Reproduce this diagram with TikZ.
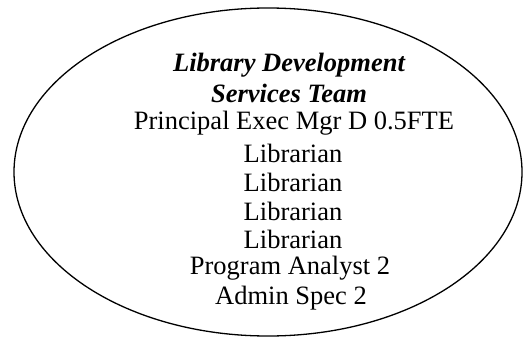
\documentclass[tikz,border=0pt]{standalone}
\usepackage{fontspec}
\setmainfont{Liberation Serif}
\usepackage{tikz}

\tikzset{
  staff/.style={font=\fontsize{26.5}{29}\selectfont},
  teamname/.style={font=\fontsize{26.5}{29}\selectfont\itshape\bfseries}
}

\begin{document}
\begin{tikzpicture}[x=1pt, y=-1pt, thick]
  \useasboundingbox (0,0) rectangle (529,339);
  \draw[line width=1.3pt] (268,172) ellipse [x radius=254, y radius=164];
  \node[teamname] (title) at (289,65) {Library Development};
  \node[teamname] (team) at (289,93) {Services Team};
  \node[staff] (mgr) at (294,123) {Principal Exec Mgr D 0.5FTE};
  \node[staff] (lib1) at (293,153) {Librarian};
  \node[staff] (lib2) at (293,182) {Librarian};
  \node[staff] (lib3) at (293,211) {Librarian};
  \node[staff] (lib4) at (293,239) {Librarian};
  \node[staff] (analyst) at (290,268) {Program Analyst 2};
  \node[staff] (admin) at (291,298) {Admin Spec 2};
\end{tikzpicture}
\end{document}
